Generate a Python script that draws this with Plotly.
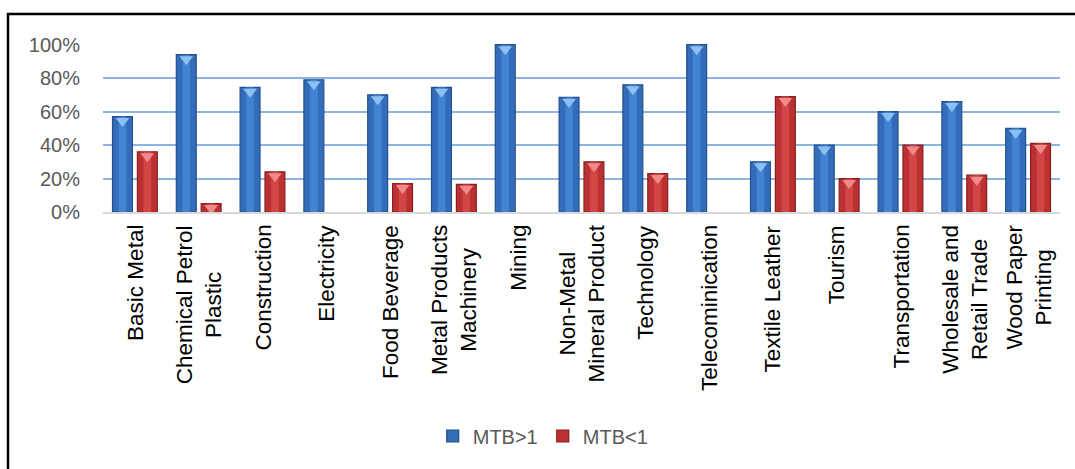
import plotly.graph_objects as go

# Share of firms by market-to-book ratio, per industry
sectors = [
    "Basic Metal", "Chemical Petrol<br>Plastic", "Construction", "Electricity",
    "Food Beverage", "Metal Products<br>Machinery", "Mining",
    "Non-Metal<br>Mineral Product", "Technology", "Telecominication",
    "Textile Leather", "Tourism", "Transportation",
    "Wholesale and<br>Retail Trade", "Wood Paper<br>Printing",
]
mtb_above_1 = [0.57, 0.94, 0.745, 0.79, 0.70, 0.745, 1.00, 0.685, 0.76, 1.00,
               0.30, 0.40, 0.60, 0.66, 0.50]
mtb_below_1 = [0.36, 0.05, 0.24, 0.0, 0.17, 0.165, 0.0, 0.30, 0.23, 0.0,
               0.69, 0.20, 0.40, 0.22, 0.41]

idx = list(range(len(sectors)))

blue, blue_edge, blue_mid, blue_hi = "#336cb8", "#22508c", "#4283d2", "#8cc0f2"
red, red_edge, red_mid, red_hi = "#bb3030", "#8a1f1f", "#d24646", "#ef8a8a"

GAP, GROUP_GAP = 0.22, 0.2
series = (
    (mtb_above_1, "MTB>1", "a", blue, blue_edge, blue_mid, blue_hi),
    (mtb_below_1, "MTB<1", "b", red, red_edge, red_mid, red_hi),
)

fig = go.Figure()
for vals, name, grp, col, edge, mid, hi in series:
    fig.add_trace(go.Bar(
        x=idx, y=vals, name=name, offsetgroup=grp,
        marker=dict(color=col,
                    line=dict(color=edge, width=[1.2 if v > 0 else 0 for v in vals])),
    ))
# lighter core of each bar for a rounded look
for vals, name, grp, col, edge, mid, hi in series:
    fig.add_trace(go.Bar(
        x=idx, y=vals, offsetgroup=grp, width=0.12, showlegend=False,
        hoverinfo="skip", marker=dict(color=mid, line=dict(width=0)),
    ))

# light bevel triangle just under each bar top
px_per_unit = 168.0
for vals, name, grp, col, edge, mid, hi in series:
    xs = [i for i, v in zip(idx, vals) if v > 0.03]
    ys = [v - 4.5 / px_per_unit for v in vals if v > 0.03]
    fig.add_trace(go.Scatter(
        x=xs, y=ys, mode="markers", offsetgroup=grp, showlegend=False,
        hoverinfo="skip",
        marker=dict(symbol="triangle-down", size=12, color=hi, line=dict(width=0)),
    ))

L, R, T, B = 103, 15, 44, 257
W, H = 1075, 469
pw, ph = W - L - R, H - T - B

def px_x(p):
    return (p - L) / pw

def px_y(p):
    return (H - B - p) / ph

# vertical category labels, lines centred on each other
annotations = [
    dict(x=i, y=px_y(223), xref="x", yref="paper", text=label,
         textangle=-90, xanchor="center", yanchor="top", align="center",
         showarrow=False, font=dict(size=22.5, color="#000000"))
    for i, label in zip(idx, sectors)
]

fig.update_layout(
    width=W, height=H,
    margin=dict(l=L, r=R, t=T, b=B),
    paper_bgcolor="white", plot_bgcolor="white",
    barmode="group", bargap=GAP, bargroupgap=GROUP_GAP,
    scattermode="group", scattergap=GAP,
    font=dict(family="Liberation Sans, Arial, sans-serif", color="#000000"),
    legend=dict(
        orientation="h", x=0.46, xanchor="center", y=px_y(436), yanchor="middle",
        font=dict(size=20, color="#595959"), itemwidth=30,
        traceorder="normal",
    ),
    showlegend=True,
    xaxis=dict(
        range=[-0.5, len(sectors) - 0.5], showticklabels=False,
        showline=True, linecolor="#d9d9d9", linewidth=2,
        showgrid=False, ticks="", zeroline=False,
    ),
    yaxis=dict(
        range=[0, 1.004], tickvals=[0, 0.2, 0.4, 0.6, 0.8, 1.0],
        tickformat=".0%", tickfont=dict(size=20, color="#595959"),
        showgrid=True, gridcolor="#8db3e2", gridwidth=1.5,
        zeroline=False, showline=False, ticks="", ticklabelstandoff=22,
    ),
    annotations=annotations,
    shapes=[
        dict(type="rect", xref="paper", yref="paper",
             x0=px_x(8), x1=px_x(1090), y0=px_y(490), y1=px_y(14),
             line=dict(color="#000000", width=2.5), fillcolor="rgba(0,0,0,0)",
             layer="below"),
    ],
)

fig.write_html("out.html")
